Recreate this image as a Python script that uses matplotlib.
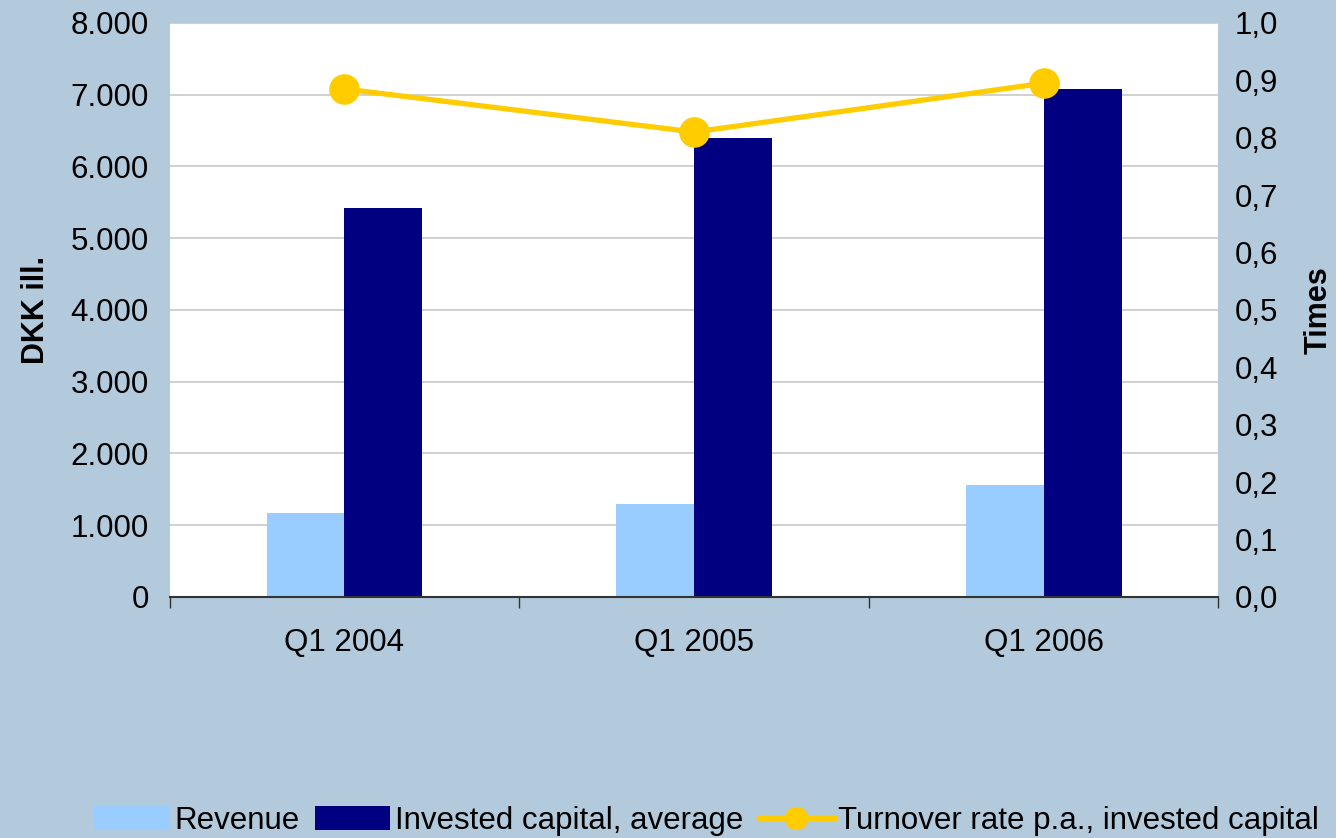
import numpy as np
import matplotlib.pyplot as plt
from matplotlib.ticker import FuncFormatter

plt.rcParams['font.family'] = ['Liberation Sans', 'DejaVu Sans']

# data
quarters = ['Q1 2004', 'Q1 2005', 'Q1 2006']
revenue = [1170, 1290, 1565]
invested_capital = [5415, 6400, 7075]
turnover_rate = [0.885, 0.81, 0.895]

bg = '#B3CADC'
fig = plt.figure(figsize=(13.36, 8.38), dpi=100, facecolor=bg)
ax = fig.add_axes([0.127, 0.2876, 0.785, 0.685])
ax.set_facecolor('white')

x = np.arange(len(quarters))
w = 0.223
ax.bar(x - w/2, revenue, w, color='#99CCFF', label='Revenue', zorder=2)
ax.bar(x + w/2, invested_capital, w, color='#000080',
       label='Invested capital, average', zorder=2)

ax.set_xlim(-0.5, 2.5)
ax.set_ylim(0, 8000)
ax.set_yticks(np.arange(0, 8001, 1000))
ax.yaxis.set_major_formatter(FuncFormatter(lambda v, p: f'{v:,.0f}'.replace(',', '.')))
ax.grid(axis='y', color='#C8C8C8', linewidth=1.2, zorder=0)
ax.set_axisbelow(True)

# ticks at category boundaries, labels centred
ax.set_xticks([-0.5, 0.5, 1.5, 2.5])
ax.set_xticklabels([])
ax.set_xticks(x, minor=True)
ax.set_xticklabels(quarters, minor=True)
ax.tick_params(axis='x', which='major', length=8, color='#333333', width=1)
ax.tick_params(axis='x', which='minor', length=0, pad=22, labelsize=22.5)
ax.tick_params(axis='y', length=0, pad=15, labelsize=22.5)
for s in ['top', 'left', 'right']:
    ax.spines[s].set_visible(False)
ax.spines['bottom'].set_color('#333333')
ax.spines['bottom'].set_linewidth(1.5)
ax.set_ylabel('DKK ill.', fontsize=22, fontweight='bold', labelpad=14)

ax2 = ax.twinx()
ax2.plot(x, turnover_rate, color='#FFCC00', linewidth=3.8, marker='o',
         markersize=21, label='Turnover rate p.a., invested capital', zorder=3)
ax2.set_ylim(0, 1.0)
ax2.set_yticks(np.arange(0, 1.01, 0.1))
ax2.yaxis.set_major_formatter(FuncFormatter(lambda v, p: f'{v:.1f}'.replace('.', ',')))
ax2.tick_params(axis='y', length=0, pad=12, labelsize=22.5)
for s in ['top', 'left', 'right', 'bottom']:
    ax2.spines[s].set_visible(False)
ax2.set_ylabel('Times', fontsize=22, fontweight='bold', labelpad=18)

h1, l1 = ax.get_legend_handles_labels()
h2, l2 = ax2.get_legend_handles_labels()
fig.legend(h1 + h2, l1 + l2, loc='center', bbox_to_anchor=(0.529, 0.02),
           ncol=3, frameon=False, fontsize=22.5, handlelength=2.4,
           handleheight=0.8, handletextpad=0.15, columnspacing=0.5,
           markerscale=0.75, borderpad=0)

fig.savefig('out.png', dpi=100, facecolor=bg)
